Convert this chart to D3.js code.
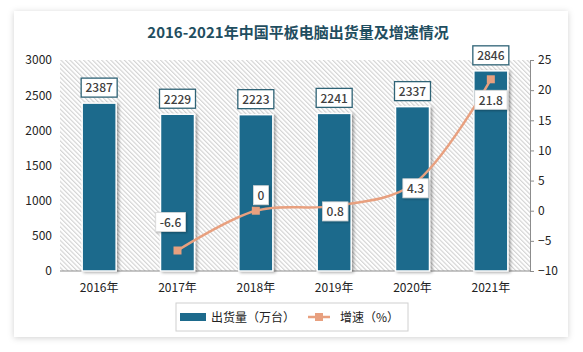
<!DOCTYPE html>
<html>
  <head>
    <meta charset="utf-8">
    <script src="https://cdn.jsdelivr.net/npm/d3@7/dist/d3.min.js"></script>
    <style>
      body { margin: 0; background: #ffffff; }
      svg { display: block; }
    </style>
  </head>
  <body>
    <svg id="chart"></svg>
    <script>
      const years = ["2016年", "2017年", "2018年", "2019年", "2020年", "2021年"];
      const shipments = [2387, 2229, 2223, 2241, 2337, 2846];
      const growth = [null, -6.6, 0, 0.8, 4.3, 21.8];
      const leftTicks = [0, 500, 1000, 1500, 2000, 2500, 3000];
      const rightTicks = [-10, -5, 0, 5, 10, 15, 20, 25];
      const title = "2016-2021年中国平板电脑出货量及增速情况";

      const W = 583, H = 352;
      const plot = {left: 60, right: 530, top: 60, bottom: 271};
      const font = "'Noto Sans CJK SC', 'Noto Sans', sans-serif";

      const svg = d3.select("#chart").attr("width", W).attr("height", H);
      const defs = svg.append("defs");

      // card shadow
      const cs = defs.append("filter").attr("id", "cardShadow")
        .attr("x", "-5%").attr("y", "-5%").attr("width", "110%").attr("height", "110%");
      cs.append("feDropShadow").attr("dx", 0).attr("dy", 1).attr("stdDeviation", 3)
        .attr("flood-color", "#000").attr("flood-opacity", 0.18);

      const bs = defs.append("filter").attr("id", "barShadow")
        .attr("x", "-30%").attr("y", "-10%").attr("width", "160%").attr("height", "120%");
      bs.append("feDropShadow").attr("dx", 2).attr("dy", 1).attr("stdDeviation", 1.5)
        .attr("flood-color", "#000").attr("flood-opacity", 0.35);

      const ls = defs.append("filter").attr("id", "lblShadow")
        .attr("x", "-20%").attr("y", "-20%").attr("width", "140%").attr("height", "150%");
      ls.append("feDropShadow").attr("dx", 1).attr("dy", 1).attr("stdDeviation", 1)
        .attr("flood-color", "#000").attr("flood-opacity", 0.3);

      const hatch = defs.append("pattern").attr("id", "hatch")
        .attr("patternUnits", "userSpaceOnUse").attr("width", 3.2).attr("height", 3.2)
        .attr("patternTransform", "rotate(-45)");
      hatch.append("rect").attr("width", 3.2).attr("height", 3.2).attr("fill", "#ffffff");
      hatch.append("line").attr("x1", 0.6).attr("y1", 0).attr("x2", 0.6).attr("y2", 3.2)
        .attr("stroke", "#cdcdcd").attr("stroke-width", 1);

      svg.append("rect").attr("x", 14).attr("y", 11).attr("width", 554).attr("height", 326)
        .attr("fill", "#fff").attr("filter", "url(#cardShadow)");

      svg.append("text").attr("x", 298).attr("y", 38).attr("text-anchor", "middle")
        .attr("font-family", font).attr("font-weight", "bold").attr("font-size", 15)
        .attr("fill", "#1f4e60").text(title);

      const x = d3.scaleBand().domain(years).range([plot.left, plot.right])
        .paddingInner(0.566).paddingOuter(0.283);
      const yL = d3.scaleLinear().domain([0, 3000]).range([plot.bottom, plot.top]);
      const yR = d3.scaleLinear().domain([-10, 25]).range([plot.bottom, plot.top]);

      svg.append("rect").attr("x", plot.left).attr("y", plot.top)
        .attr("width", plot.right - plot.left).attr("height", plot.bottom - plot.top)
        .attr("fill", "url(#hatch)");

      // left axis (labels only)
      const gL = svg.append("g").attr("transform", `translate(${plot.left},0)`)
        .call(d3.axisLeft(yL).tickValues(leftTicks).tickFormat(d3.format("d")).tickSize(0).tickPadding(8));
      gL.select(".domain").remove();
      gL.selectAll("text").attr("font-family", font).attr("font-size", 12).attr("fill", "#222");

      // right axis
      const gR = svg.append("g").attr("transform", `translate(${plot.right},0)`)
        .call(d3.axisRight(yR).tickValues(rightTicks).tickSize(4).tickPadding(4));
      gR.select(".domain").attr("stroke", "#8c8c8c");
      gR.selectAll("line").attr("stroke", "#8c8c8c");
      gR.selectAll("text").attr("font-family", font).attr("font-size", 12).attr("fill", "#222");

      // bottom axis
      const gB = svg.append("g").attr("transform", `translate(0,${plot.bottom})`)
        .call(d3.axisBottom(x).tickSize(0).tickPadding(12));
      gB.select(".domain").attr("stroke", "#8c8c8c").attr("d", `M${plot.left},0H${plot.right}`);
      gB.selectAll("text").attr("font-family", font).attr("font-size", 12).attr("fill", "#222");

      // bars
      svg.append("g").selectAll("rect").data(shipments).join("rect")
        .attr("x", (d, i) => x(years[i]))
        .attr("y", d => yL(d))
        .attr("width", x.bandwidth())
        .attr("height", d => yL(0) - yL(d))
        .attr("fill", "#1d6a8c")
        .attr("stroke", "#ffffff").attr("stroke-width", 1.5)
        .attr("filter", "url(#barShadow)");

      // bar labels
      const bl = svg.append("g").selectAll("g").data(shipments).join("g")
        .attr("transform", (d, i) => `translate(${x(years[i]) + x.bandwidth() / 2},${yL(d) - 15})`);
      bl.append("rect").attr("x", -18).attr("y", -10).attr("width", 36).attr("height", 19)
        .attr("fill", "#fff").attr("stroke", "#2f6376").attr("stroke-width", 1.3);
      bl.append("text").attr("text-anchor", "middle").attr("dy", "0.36em")
        .attr("font-family", font).attr("font-size", 12).attr("font-weight", 500)
        .attr("fill", "#404040").text(d => d);

      // growth line
      const pts = growth.map((v, i) => ({year: years[i], v: v})).filter(d => d.v !== null);
      const cx = d => x(d.year) + x.bandwidth() / 2;
      const line = d3.line().x(cx).y(d => yR(d.v)).curve(d3.curveCatmullRom.alpha(0.5));
      svg.append("path").attr("d", line(pts)).attr("fill", "none")
        .attr("stroke", "#e8a07f").attr("stroke-width", 2.5);
      svg.append("g").selectAll("rect").data(pts).join("rect")
        .attr("x", d => cx(d) - 4).attr("y", d => yR(d.v) - 4)
        .attr("width", 8).attr("height", 8).attr("fill", "#e8a07f");

      // growth labels: offset from marker per point (layout)
      const place = [[-7, -28], [5, -15], [1, 6], [3, 4], [0, 21]];
      const gl = svg.append("g").selectAll("g").data(pts).join("g")
        .attr("transform", (d, i) => `translate(${cx(d) + place[i][0]},${yR(d.v) + place[i][1]})`);
      gl.append("text").attr("text-anchor", "middle").attr("dy", "0.36em")
        .attr("font-family", font).attr("font-size", 12).attr("font-weight", 500)
        .attr("fill", "#404040").text(d => d.v)
        .each(function() {
          const b = this.getBBox();
          d3.select(this.parentNode).insert("rect", "text")
            .attr("x", b.x - 4).attr("y", -10).attr("width", b.width + 8).attr("height", 19)
            .attr("fill", "#fff").attr("stroke", "#d8d8d8").attr("stroke-width", 0.8)
            .attr("filter", "url(#lblShadow)");
        });

      // legend
      const lg = svg.append("g");
      lg.append("rect").attr("x", 176).attr("y", 303).attr("width", 232).attr("height", 28)
        .attr("fill", "#fff").attr("stroke", "#d0d0d0");
      lg.append("rect").attr("x", 180).attr("y", 313).attr("width", 26).attr("height", 8).attr("fill", "#1d6a8c");
      lg.append("text").attr("x", 211).attr("y", 322).attr("font-family", font).attr("font-size", 12)
        .attr("fill", "#222").text("出货量（万台）");
      lg.append("line").attr("x1", 308).attr("x2", 330).attr("y1", 317).attr("y2", 317)
        .attr("stroke", "#e8a07f").attr("stroke-width", 2.5);
      lg.append("rect").attr("x", 315).attr("y", 313).attr("width", 8).attr("height", 8).attr("fill", "#e8a07f");
      lg.append("text").attr("x", 340).attr("y", 322).attr("font-family", font).attr("font-size", 12)
        .attr("fill", "#222").text("增速（%）");
    </script>
  </body>
</html>
